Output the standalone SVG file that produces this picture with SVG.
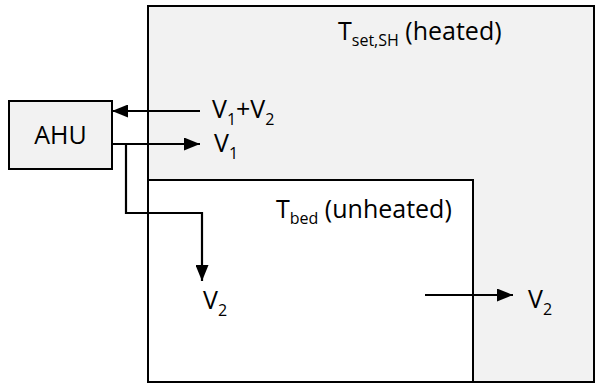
<svg xmlns="http://www.w3.org/2000/svg" width="600" height="386" viewBox="0 0 600 386">
<defs>
<marker id="ah" markerWidth="16" markerHeight="13" refX="16" refY="6.5" orient="auto" markerUnits="userSpaceOnUse">
<path d="M0,0 L16,6.5 L0,13 Z" fill="#000"/>
</marker>
<style>
.box{stroke:#000;stroke-width:2}
.t{font-family:"Open Sans","Liberation Sans",sans-serif;font-size:25px;fill:#000}
.s{font-size:16px}
.c{fill:none;stroke:#000;stroke-width:2.2}
</style>
</defs>
<rect width="600" height="386" fill="#fff"/>
<g id="heated">
<rect class="box" x="148" y="6" width="446" height="376" fill="#f2f2f2"/>
<text class="t" x="338" y="40">T<tspan class="s" dy="6">set,SH</tspan><tspan dy="-6"> (heated)</tspan></text>
</g>
<g id="bed">
<rect class="box" x="148" y="180" width="325" height="202" fill="#fff"/>
<text class="t" x="276" y="218">T<tspan class="s" dy="6">bed</tspan><tspan dy="-6"> (unheated)</tspan></text>
</g>
<g id="ahu">
<rect class="box" x="9" y="101" width="103" height="68" fill="#f2f2f2"/>
<text class="t" x="60.5" y="144" text-anchor="middle">AHU</text>
</g>
<g id="connectors">
<line class="c" x1="200" y1="111" x2="112" y2="111" marker-end="url(#ah)"/>
<line class="c" x1="112" y1="144" x2="200" y2="144" marker-end="url(#ah)"/>
<polyline class="c" points="126,144 126,213 202,213 202,281" marker-end="url(#ah)"/>
<line class="c" x1="425" y1="295" x2="513" y2="295" marker-end="url(#ah)"/>
</g>
<g id="labels">
<text class="t" x="212" y="118">V<tspan class="s" dy="7">1</tspan><tspan dy="-7">+V</tspan><tspan class="s" dy="7">2</tspan></text>
<text class="t" x="214" y="152">V<tspan class="s" dy="7">1</tspan></text>
<text class="t" x="203" y="309">V<tspan class="s" dy="7">2</tspan></text>
<text class="t" x="528" y="308">V<tspan class="s" dy="7">2</tspan></text>
</g>
</svg>
